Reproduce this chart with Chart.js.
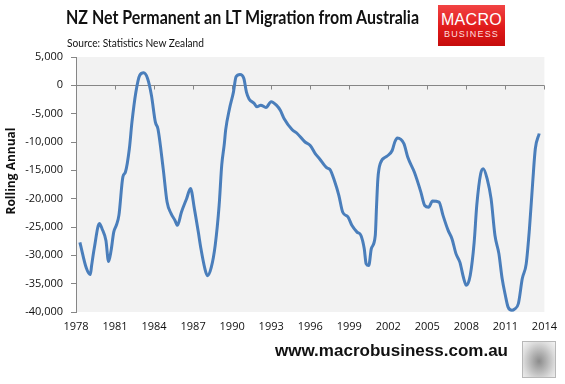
<!DOCTYPE html>
<html>
<head>
<meta charset="utf-8">
<script src="https://cdn.jsdelivr.net/npm/chart.js@4/dist/chart.umd.min.js"></script>
<style>
  html, body { margin: 0; padding: 0; background: #fff; }
  #wrap { position: relative; width: 565px; height: 384px; overflow: hidden; font-family: Lato, "Open Sans", sans-serif; }
  #chart { position: absolute; left: 0; top: 0; }
  .fit { position: absolute; white-space: nowrap; transform-origin: 0 0; color: #111; }
  .title { left: 66px; top: 6px; font-size: 18px; font-weight: bold; }
  .subtitle { left: 67px; top: 35px; font-size: 12px; }
  .logo { position: absolute; left: 438px; top: 5px; width: 67px; height: 41px;
    background: linear-gradient(180deg, #f24444 0%, #e01a1a 55%, #c60c0c 100%);
    color: #fff; font-family: "Liberation Sans", Arial, sans-serif; text-align: center; }
  .logo .m { font-size: 16px; margin-top: 6px; line-height: 17px; letter-spacing: 0.3px; }
  .logo .b { font-size: 9px; color: #ffdede; letter-spacing: 1.2px; line-height: 11px; margin-top: 1px; }
  .footer { left: 275px; top: 342px; font-family: "Liberation Sans", Arial, sans-serif; font-size: 16px; font-weight: bold; }
  .fox { position: absolute; left: 522px; top: 341px; width: 32px; height: 35px; border: 1px solid #b8b8b8;
    background: radial-gradient(ellipse at 50% 55%, #8c8c8c 0%, #b4b4b4 35%, #dcdcdc 70%, #f4f4f4 100%); }
</style>
</head>
<body>
<div id="wrap">
  <canvas id="chart" width="565" height="384"></canvas>
  <div class="fit title" data-w="353">NZ Net Permanent an LT Migration from Australia</div>
  <div class="fit subtitle" data-w="137">Source: Statistics New Zealand</div>
  <div class="logo"><div class="m">MACRO</div><div class="b">BUSINESS</div></div>
  <div class="fit footer" data-w="233">www.macrobusiness.com.au</div>
  <div class="fox"></div>
</div>
<script>
// rolling annual net migration (x = decimal year)
const years = [
  1978.3, 1978.8, 1979.1, 1979.2, 1979.4, 1979.8, 1980.0, 1980.3, 1980.5, 1980.7,
  1980.9, 1981.1, 1981.3, 1981.6, 1981.8, 1982.1, 1982.3, 1982.6, 1982.9, 1983.2,
  1983.5, 1983.8, 1984.1, 1984.3, 1984.7, 1985.0, 1985.3, 1985.6, 1985.8, 1986.1,
  1986.5, 1986.8, 1987.1, 1987.4, 1987.6, 1987.9, 1988.1, 1988.4, 1988.7, 1989.0,
  1989.2, 1989.4, 1989.5, 1989.8, 1990.1, 1990.3, 1990.6, 1990.9, 1991.1, 1991.3,
  1991.7, 1991.9, 1992.2, 1992.6, 1993.0, 1993.4, 1993.7, 1994.0, 1994.6, 1995.0,
  1995.6, 1996.0, 1996.4, 1996.7, 1997.3, 1997.5, 1997.9, 1998.2, 1998.5, 1998.9,
  1999.2, 1999.6, 1999.9, 2000.15, 2000.3, 2000.5, 2000.7, 2001.0, 2001.1, 2001.2,
  2001.4, 2001.9, 2002.3, 2002.5, 2002.7, 2003.2, 2003.5, 2004.0, 2004.5, 2004.8,
  2005.1, 2005.4, 2005.9, 2006.2, 2006.6, 2006.9, 2007.2, 2007.5, 2007.8, 2008.0,
  2008.3, 2008.6, 2008.8, 2009.1, 2009.3, 2009.6, 2009.9, 2010.2, 2010.5, 2010.75,
  2011.0, 2011.2, 2011.5, 2011.7, 2012.0, 2012.3, 2012.6, 2012.85, 2013.1, 2013.3,
  2013.6
];
const rollingAnnual = [
  -27700, -32300, -33400, -31800, -28800, -24400, -25300, -27400, -31100, -29100,
  -25900, -24700, -22900, -16200, -15300, -11200, -6500, -1200, 1800, 2200,
  1200, -1800, -6500, -7700, -14700, -20600, -22600, -23800, -24700, -22400,
  -20000, -18200, -21800, -25900, -28800, -32300, -33600, -32100, -28200, -21200,
  -14100, -10300, -7900, -4100, -1200, 1500, 1900, 1200, -1200, -2400,
  -3200, -3800, -3500, -3900, -2900, -3500, -4400, -5900, -7800, -8500,
  -10000, -10600, -12100, -12900, -14600, -14800, -17100, -19400, -22400, -23200,
  -24700, -25900, -26500, -28800, -31500, -31800, -28800, -26500, -21200, -16500,
  -13700, -12500, -11500, -10000, -9300, -10300, -12700, -15300, -18800, -21200,
  -21500, -20400, -20600, -22900, -25600, -27100, -29700, -31200, -34100, -35300,
  -33500, -27700, -21200, -15600, -14700, -16500, -20000, -26500, -29700, -34100,
  -37100, -39100, -39700, -39500, -38500, -34100, -31500, -25300, -17100, -11200,
  -8500
];
const yearTicks = [1978, 1981, 1984, 1987, 1990, 1993, 1996, 1999, 2002, 2005, 2008, 2011, 2014];
const yMin = -40000, yMax = 5000, yStep = 5000;

const axisGrey = '#868686';

// squeeze the html texts to the widths they have in the original (Calibri is narrow)
document.querySelectorAll('.fit').forEach(el => {
  const w = el.getBoundingClientRect().width;
  el.style.transform = 'scaleX(' + (+el.dataset.w / w) + ')';
});

// grey plot area, the horizontal axis line at zero with its tick marks, y axis title
const plotDecor = {
  id: 'plotDecor',
  beforeDraw(chart) {
    const { ctx, chartArea: a } = chart;
    ctx.save();
    ctx.fillStyle = '#f2f2f2';
    ctx.fillRect(a.left, a.top, a.right - a.left, a.bottom - a.top);
    ctx.translate(12, 171);
    ctx.rotate(-Math.PI / 2);
    ctx.fillStyle = '#111';
    ctx.font = 'bold 12px "Open Sans"';
    ctx.textAlign = 'center';
    ctx.textBaseline = 'middle';
    ctx.fillText('Rolling Annual', 0, 0);
    ctx.restore();
  },
  beforeDatasetsDraw(chart) {
    const { ctx, chartArea: a, scales } = chart;
    const y0 = Math.round(scales.y.getPixelForValue(0)) + 0.5;
    ctx.save();
    ctx.strokeStyle = axisGrey;
    ctx.lineWidth = 1;
    ctx.beginPath();
    ctx.moveTo(a.left, y0);
    ctx.lineTo(a.right, y0);
    yearTicks.forEach(t => {
      const x = Math.round(scales.x.getPixelForValue(t)) + 0.5;
      ctx.moveTo(x, y0);
      ctx.lineTo(x, y0 + 4);
    });
    ctx.stroke();
    ctx.restore();
  }
};

new Chart(document.getElementById('chart'), {
  type: 'line',
  data: {
    datasets: [{
      data: years.map((x, i) => ({ x: x, y: rollingAnnual[i] })),
      borderColor: '#4a7ebb',
      borderWidth: 3,
      pointRadius: 0,
      cubicInterpolationMode: 'monotone',
      fill: false
    }]
  },
  options: {
    responsive: false,
    animation: false,
    layout: { padding: { top: 57, right: 20, bottom: 0, left: 0 } },
    plugins: { legend: { display: false }, tooltip: { enabled: false } },
    scales: {
      x: {
        type: 'linear',
        min: 1978, max: 2014,
        afterBuildTicks(scale) { scale.ticks = yearTicks.map(v => ({ value: v })); },
        afterFit(scale) { scale.height = 72; },
        grid: { display: false, drawTicks: false },
        border: { display: false },
        ticks: {
          padding: 8,
          color: '#111',
          font: { family: 'Open Sans', size: 11 },
          maxRotation: 0,
          autoSkip: false,
          callback: v => String(v)
        }
      },
      y: {
        min: yMin, max: yMax,
        afterFit(scale) { scale.width = 76; },
        ticks: {
          stepSize: yStep,
          padding: 8,
          color: '#111',
          font: { family: 'Open Sans', size: 11 },
          callback: v => v.toLocaleString('en-US')
        },
        grid: { drawOnChartArea: false, tickLength: 5, color: axisGrey },
        border: { color: axisGrey }
      }
    }
  },
  plugins: [plotDecor]
});
</script>
</body>
</html>
